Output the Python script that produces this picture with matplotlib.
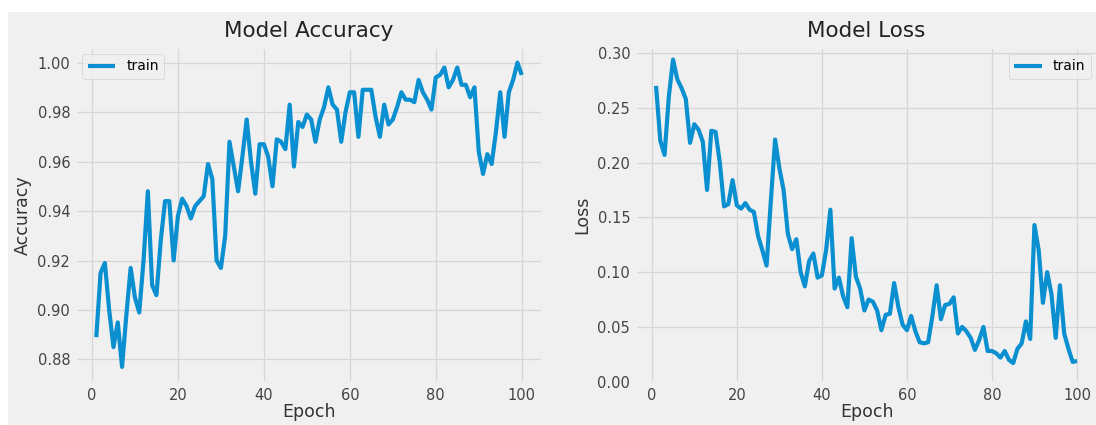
import numpy as np
import matplotlib
matplotlib.use("Agg")
import matplotlib.pyplot as plt
from matplotlib.patches import Rectangle

# training history, one value per epoch
epochs = np.arange(1, 101)

train_acc = [
    0.889, 0.915, 0.919, 0.900, 0.885, 0.895, 0.877, 0.898, 0.917, 0.905,
    0.899, 0.920, 0.948, 0.910, 0.906, 0.928, 0.944, 0.944, 0.920, 0.938,
    0.945, 0.942, 0.937, 0.942, 0.944, 0.946, 0.959, 0.953, 0.920, 0.917,
    0.930, 0.968, 0.958, 0.948, 0.962, 0.977, 0.960, 0.947, 0.967, 0.967,
    0.962, 0.950, 0.969, 0.968, 0.965, 0.983, 0.958, 0.976, 0.974, 0.979,
    0.977, 0.968, 0.977, 0.982, 0.990, 0.983, 0.981, 0.968, 0.980, 0.988,
    0.988, 0.970, 0.989, 0.989, 0.989, 0.978, 0.970, 0.983, 0.975, 0.977,
    0.982, 0.988, 0.985, 0.985, 0.984, 0.993, 0.988, 0.985, 0.981, 0.994,
    0.995, 0.998, 0.990, 0.993, 0.998, 0.991, 0.991, 0.986, 0.990, 0.964,
    0.955, 0.963, 0.959, 0.972, 0.988, 0.970, 0.988, 0.993, 1.000, 0.995,
]

train_loss = [
    0.270, 0.220, 0.207, 0.260, 0.294, 0.276, 0.268, 0.258, 0.218, 0.235,
    0.230, 0.219, 0.175, 0.229, 0.228, 0.200, 0.160, 0.162, 0.184, 0.161,
    0.158, 0.163, 0.157, 0.155, 0.133, 0.120, 0.106, 0.165, 0.221, 0.195,
    0.175, 0.135, 0.121, 0.130, 0.100, 0.087, 0.110, 0.117, 0.095, 0.097,
    0.120, 0.157, 0.085, 0.095, 0.078, 0.068, 0.131, 0.096, 0.085, 0.065,
    0.075, 0.073, 0.065, 0.047, 0.061, 0.062, 0.090, 0.068, 0.052, 0.047,
    0.060, 0.046, 0.036, 0.035, 0.036, 0.060, 0.088, 0.057, 0.070, 0.071,
    0.077, 0.044, 0.050, 0.046, 0.040, 0.029, 0.038, 0.050, 0.028, 0.028,
    0.026, 0.022, 0.028, 0.020, 0.017, 0.030, 0.035, 0.055, 0.039, 0.143,
    0.120, 0.072, 0.100, 0.080, 0.040, 0.088, 0.044, 0.030, 0.018, 0.019,
]

plt.style.use("fivethirtyeight")
plt.rcParams["font.family"] = "DejaVu Sans"

fig = plt.figure(figsize=(10.96, 4.25), dpi=100)
fig.patch.set_facecolor("#f0f0f0")

W, H = 1096, 425
ax_acc = fig.add_axes([75 / W, (H - 383) / H, 468 / W, 336 / H])
ax_loss = fig.add_axes([635 / W, (H - 383) / H, 463 / W, 336 / H])

panels = [
    (ax_acc, train_acc, "Model Accuracy", "Accuracy", "upper left", (0.8705, 1.0063)),
    (ax_loss, train_loss, "Model Loss", "Loss", "upper right", (-0.0012, 0.3055)),
]

for ax, values, title, ylabel, loc, ylim in panels:
    ax.plot(epochs, values, color="#0a8fd0", linewidth=3.0, label="train")
    ax.set_title(title, fontsize=15.5, pad=7, color="#222222")
    ax.set_xlabel("Epoch", fontsize=12.5, labelpad=0, color="#333333")
    ax.set_ylabel(ylabel, fontsize=12.5, labelpad=4, color="#333333")
    ax.set_xlim(-3.95, 104.95)
    ax.set_ylim(*ylim)
    ax.set_xticks([0, 20, 40, 60, 80, 100])
    ax.tick_params(labelsize=10.5, colors="#444444")
    ax.grid(True, color="#d6d6d6", linewidth=0.9)
    ax.legend(loc=loc, fontsize=10, handlelength=2.0)

ax_loss.set_yticks([0.0, 0.05, 0.10, 0.15, 0.20, 0.25, 0.30])
ax_loss.yaxis.set_major_formatter(plt.FormatStrFormatter("%.2f"))
ax_acc.yaxis.set_major_formatter(plt.FormatStrFormatter("%.2f"))

# thin white margin along the top and left edges
fig.add_artist(Rectangle((0, 1 - 12 / H), 1, 12 / H, transform=fig.transFigure,
                         facecolor="white", edgecolor="none", zorder=-1))
fig.add_artist(Rectangle((0, 0), 8 / W, 1, transform=fig.transFigure,
                         facecolor="white", edgecolor="none", zorder=-1))

fig.savefig("out.png", dpi=100, facecolor=fig.get_facecolor())
plt.close(fig)
